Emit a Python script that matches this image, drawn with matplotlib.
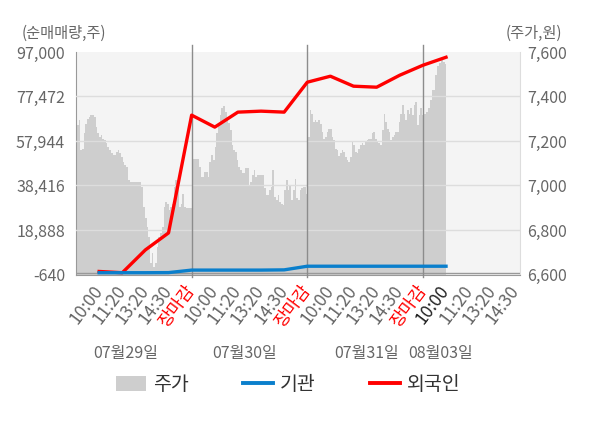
import numpy as np
import matplotlib
matplotlib.use("Agg")
import matplotlib.pyplot as plt
from matplotlib.patches import Patch
from matplotlib.lines import Line2D
from matplotlib.transforms import blended_transform_factory

plt.rcParams['font.family'] = ['Noto Sans CJK KR', 'DejaVu Sans']

# x tick labels (one slot per tick)
tick_labels = ['10:00', '11:20', '13:20', '14:30', '장마감'] * 3 + ['10:00', '11:20', '13:20', '14:30']
day_labels = ['07월29일', '07월30일', '07월31일', '08월03일']
day_label_pos = [1.15, 6.3, 11.55, 14.75]

# net buying (shares) at each tick slot
inst = [150, 150, 150, 200, 1300, 1300, 1300, 1300, 1400, 3000, 3000, 3000, 3000, 3000, 3000, 3000]
foreign = [700, 150, 10160, 17610, 69280, 64030, 70600, 71030, 70600, 83730,
           86360, 81980, 81540, 86800, 91170, 94680]

# stock price per day (won)
day1_price = [7311, 7271, 7293, 7159, 7166, 7234, 7278, 7301, 7308, 7316, 7316, 7308, 7264, 7234,
              7219, 7226, 7211, 7204, 7189, 7174, 7159, 7144, 7136, 7136, 7151, 7159, 7144, 7129,
              7106, 7091, 7084, 7024, 7017, 7017, 7017, 7017, 7017, 7017, 7017, 6994, 6904, 6852,
              6815, 6770, 6650, 6695, 6635, 6650, 6725, 6770, 6785, 6815, 6904, 6927, 6919, 6889,
              6904, 6919, 6994, 7024, 6994, 6904, 6919, 6964, 6904, 6897, 6897, 6897, 6897]
day2_price = [7047, 7118, 7118, 7118, 7118, 7084, 7039, 7039, 7062, 7062, 7039, 7106, 7136, 7114,
              7174, 7234, 7279, 7316, 7346, 7356, 7331, 7308, 7279, 7249, 7181, 7159, 7151, 7114,
              7084, 7069, 7054, 7054, 7077, 7077, 7002, 7017, 7047, 7069, 7039, 7047, 7047, 7047,
              7047, 6987, 6957, 6957, 6979, 6994, 7069, 6949, 6934, 6957, 6927, 6919, 6912, 6979,
              7024, 6979, 7002, 6934, 6979, 7027, 6942, 6934, 6979, 6987, 6994, 6994, 6964]
day3_price = [7234, 7219, 7341, 7323, 7286, 7296, 7286, 7293, 7276, 7241, 7207, 7219, 7241, 7256,
              7256, 7219, 7204, 7166, 7159, 7132, 7147, 7159, 7151, 7129, 7114, 7106, 7129, 7196,
              7181, 7151, 7147, 7166, 7181, 7189, 7181, 7196, 7204, 7207, 7211, 7234, 7241, 7211,
              7196, 7189, 7181, 7249, 7323, 7286, 7256, 7241, 7204, 7216, 7226, 7241, 7241, 7286,
              7323, 7361, 7323, 7293, 7338, 7323, 7346, 7316, 7361, 7376, 7271, 7316, 7346, 7316]
day4_price = [7323, 7323, 7331, 7346, 7383, 7428, 7431, 7495, 7536, 7551, 7563, 7555, 7548]
day_spans = [(-1, 4), (4, 9), (9, 14), (14, 15)]

left_ticks = [-640, 18888, 38416, 57944, 77472, 97000]
right_ticks = [6600, 6800, 7000, 7200, 7400, 7600]

fig = plt.figure(figsize=(6, 4.28), dpi=100)
ax = fig.add_axes([0.1267, 0.3586, 0.74, 0.52])
ax.set_facecolor('#f4f4f4')

area_color = '#cecece'
for prices, (s, e) in zip([day1_price, day2_price, day3_price, day4_price], day_spans):
    xs = np.linspace(s, e, len(prices))
    ax.fill_between(xs, prices, 6600, step='mid', color=area_color, lw=0)

ax.set_xlim(-1, 18.2)
ax.set_ylim(6600, 7600)

ax2 = ax.twinx()
ax.yaxis.tick_right()
ax.set_yticks(right_ticks)
ax.set_yticklabels(['{:,}'.format(v) for v in right_ticks])
ax2.yaxis.tick_left()
ax2.set_ylim(-640, 97000)
ax2.set_yticks(left_ticks)
ax2.set_yticklabels(['{:,}'.format(v) for v in left_ticks])

for v in left_ticks[1:-1]:
    ax2.axhline(v, color='#dddddd', lw=1, zorder=1)
ax2.axhline(0, color='#999999', lw=1, zorder=1)
for d in [4, 9, 14]:
    ax2.axvline(d, ymin=-0.011, ymax=1.031, color='#8c8c8c', lw=1, clip_on=False, zorder=1.5)

slots = np.arange(len(foreign))
ax2.plot(slots, foreign, color='#ff0000', lw=2.4, zorder=3)
ax2.plot(slots, inst, color='#0a7fcc', lw=2.4, zorder=4)

for a in (ax, ax2):
    a.spines['top'].set_visible(False)
for sp in ax2.spines.values():
    sp.set_visible(False)
ax.spines['left'].set_color('#999999')
ax.spines['bottom'].set_color('#999999')
ax.spines['right'].set_color('#dddddd')

ax.tick_params(axis='y', length=0, pad=5, labelsize=11.5, labelcolor='#666666')
ax2.tick_params(axis='y', length=0, pad=8, labelsize=11.5, labelcolor='#666666')

ax.set_xticks(np.arange(len(tick_labels)))
ax.set_xticklabels(tick_labels, rotation=53, ha='right', va='center', rotation_mode='anchor')
ax.tick_params(axis='x', length=0, pad=9, labelsize=12.5)
for i, t in enumerate(ax.get_xticklabels()):
    if tick_labels[i] == '장마감':
        t.set_color('#ff0000')
    elif i == 15:
        t.set_color('#222222')
    else:
        t.set_color('#666666')

tr = blended_transform_factory(ax.transData, ax.transAxes)
for lab, pos in zip(day_labels, day_label_pos):
    ax.text(pos, -0.357, lab, transform=tr, ha='center', va='center', fontsize=11.5, color='#666666')

fig.text(22 / 600, 1 - 33 / 428, '(순매매량,주)', ha='left', va='center', fontsize=11, color='#666666')
fig.text(562 / 600, 1 - 33 / 428, '(주가,원)', ha='right', va='center', fontsize=11, color='#666666')

handles = [Patch(facecolor=area_color, edgecolor='none'),
           Line2D([], [], color='#0a7fcc', lw=2.8),
           Line2D([], [], color='#ff0000', lw=2.8)]
fig.legend(handles, ['주가', '기관', '외국인'], loc='center', bbox_to_anchor=(0.48, 1 - 385 / 428),
           ncol=3, frameon=False, fontsize=14, handlelength=1.55, handleheight=0.8,
           columnspacing=2.8, handletextpad=0.35, labelcolor='#333333')

fig.savefig('out.png', dpi=100)
